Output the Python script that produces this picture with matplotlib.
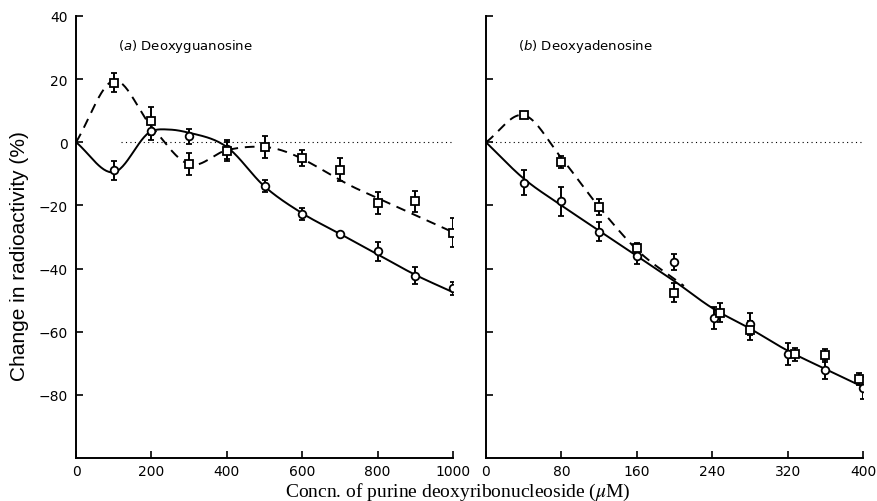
import numpy as np
import matplotlib
matplotlib.use("Agg")
import matplotlib.pyplot as plt

# (a) Deoxyguanosine
conc_a = [100, 200, 300, 400, 500, 600, 700, 800, 900, 1000]
circ_a = [-8.8, 3.7, 1.9, -2.2, -13.9, -22.7, -28.9, -34.6, -42.3, -46.3]
circ_a_err = [3, 3, 2.3, 3, 2, 2, 0, 3, 2.7, 2]
sq_a = [18.9, 6.8, -6.8, -2.8, -1.6, -5.1, -8.7, -19.2, -18.7, -28.6]
sq_a_err = [3, 4.5, 3.5, 3, 3.5, 2.5, 3.7, 3.5, 3.3, 4.5]

# fitted curves (a)
fit_circ_a_x = [0, 100, 200, 250, 300, 400, 500, 600, 700, 800, 900, 1000]
fit_circ_a_y = [0, -9.5, 3.5, 4, 3, -1.5, -14, -22.5, -29, -35.5, -42, -47.5]
fit_sq_a_x = [0, 100, 200, 300, 400, 500, 750, 1000]
fit_sq_a_y = [0, 19.5, 5, -7, -2.5, -1.5, -15, -28.5]

# (b) Deoxyadenosine
conc_b_circ = [40, 80, 120, 160, 200, 242, 280, 320, 360, 400]
circ_b = [-12.8, -18.7, -28.4, -36.1, -37.9, -55.8, -57.6, -67.2, -72.1, -77.7]
circ_b_err = [4, 4.5, 3, 2.5, 2.5, 3.5, 3.5, 3.5, 3, 3.5]
conc_b_sq = [40, 80, 120, 160, 200, 248, 280, 328, 360, 396]
sq_b = [8.6, -6.3, -20.6, -33.5, -47.7, -54, -59.6, -67.2, -67.5, -75]
sq_b_err = [1, 2, 2.5, 1.5, 3, 3, 3, 2, 2, 2]

fit_circ_b_x = [0, 40, 80, 120, 160, 200, 240, 280, 320, 360, 400]
fit_circ_b_y = [0, -11.5, -20, -28, -36, -44, -52.5, -59, -66, -71.8, -77.5]
fit_sq_b_x = [0, 40, 80, 120, 160, 210]
fit_sq_b_y = [0, 8.6, -5, -20.5, -34, -45.5]


def smooth(xk, yk, n=300):
    # cubic Hermite through the knots, tangents from neighbours
    xk = np.asarray(xk, float)
    yk = np.asarray(yk, float)
    m = np.gradient(yk, xk)
    xs = np.linspace(xk[0], xk[-1], n)
    i = np.clip(np.searchsorted(xk, xs) - 1, 0, len(xk) - 2)
    h = xk[i + 1] - xk[i]
    t = (xs - xk[i]) / h
    h00 = 2 * t**3 - 3 * t**2 + 1
    h10 = t**3 - 2 * t**2 + t
    h01 = -2 * t**3 + 3 * t**2
    h11 = t**3 - t**2
    ys = h00 * yk[i] + h10 * h * m[i] + h01 * yk[i + 1] + h11 * h * m[i + 1]
    return xs, ys


fig = plt.figure(figsize=(8.78, 5.02), dpi=100)
ax1 = fig.add_axes([0.0866, 0.0857, 0.4294, 0.8805])
ax2 = fig.add_axes([0.5535, 0.0857, 0.4294, 0.8805])

mk = dict(markerfacecolor='white', markeredgecolor='black', markeredgewidth=1.3,
          ecolor='black', elinewidth=1.4, capsize=2.5, capthick=1.4, linestyle='none', zorder=3)


def panel(ax, fc, fs, xc, yc, ec, xs_, ys_, es, xmax, xticks, dot_from):
    ax.hlines(0, dot_from, xmax, colors='black', linestyles=(0, (1, 3)), linewidth=0.8)
    x, y = smooth(*fc)
    ax.plot(x, y, color='black', lw=1.4, zorder=2)
    x, y = smooth(*fs)
    ax.plot(x, y, color='black', lw=1.4, dashes=(5, 3.5), zorder=2)
    ax.errorbar(xc, yc, yerr=ec, marker='o', markersize=5.5, **mk)
    ax.errorbar(xs_, ys_, yerr=es, marker='s', markersize=5.5, **mk)
    ax.set_xlim(0, xmax)
    ax.set_ylim(-100, 40)
    ax.set_xticks(xticks)
    ax.set_yticks([40, 20, 0, -20, -40, -60, -80])
    for s in ['top', 'right']:
        ax.spines[s].set_visible(False)
    for s in ['left', 'bottom']:
        ax.spines[s].set_linewidth(1.4)
    ax.tick_params(direction='in', length=5, width=1.2, labelsize=10, pad=4)
    ax.tick_params(axis='y', pad=6)


panel(ax1, (fit_circ_a_x, fit_circ_a_y), (fit_sq_a_x, fit_sq_a_y),
      conc_a, circ_a, circ_a_err, conc_a, sq_a, sq_a_err,
      1000, [0, 200, 400, 600, 800, 1000], 120)
ax1.set_yticklabels(['40', '20', '0', '\u221220', '\u221240', '\u221260', '\u221280'])
ax1.text(112, 30.6, r'($\it{a}$) Deoxyguanosine', fontsize=9.5, va='center',
         math_fontfamily='dejavusans')

panel(ax2, (fit_circ_b_x, fit_circ_b_y), (fit_sq_b_x, fit_sq_b_y),
      conc_b_circ, circ_b, circ_b_err, conc_b_sq, sq_b, sq_b_err,
      400, [0, 80, 160, 240, 320, 400], 5)
ax2.set_yticklabels([])
ax2.text(34, 30.6, r'($\it{b}$) Deoxyadenosine', fontsize=9.5, va='center',
         math_fontfamily='dejavusans')

fig.text(0.022, 0.49, 'Change in radioactivity (%)', rotation=90, ha='center', va='center',
         family='Liberation Sans', fontsize=15)
fig.text(0.521, 0.019, r'Concn. of purine deoxyribonucleoside ($\mathit{\mu}$M)', ha='center',
         va='center', family='Liberation Serif', fontsize=14, math_fontfamily='stix')

fig.savefig('out.png', dpi=100)
